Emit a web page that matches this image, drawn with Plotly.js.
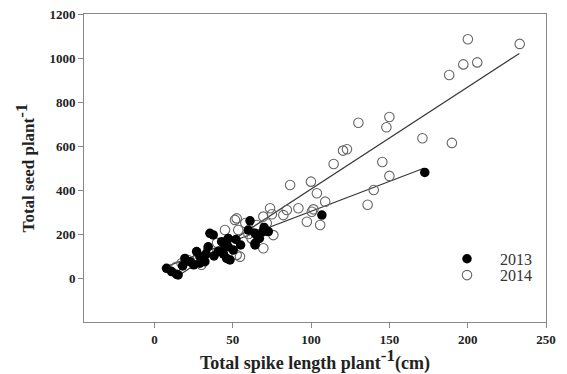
<!DOCTYPE html>
<html>
<head>
<meta charset="utf-8">
<script src="https://cdn.plot.ly/plotly-3.0.1.min.js"></script>
<style>html,body{margin:0;padding:0;background:#fff;}#chart{width:567px;height:374px;}</style>
</head>
<body>
<div id="chart"></div>
<script>
// 2013 (filled circles)
const x2013 = [7.7, 10.9, 14, 15.1, 19.4, 22.6, 26.9, 29, 29, 32.2, 34.3, 35.4, 37.5, 40.7, 42.9, 45, 46.1, 47.1, 48.2, 47.1, 50.3, 59.9, 61, 64.2, 64.2, 65.3, 69.5, 72.7, 64.2, 25, 38, 55, 18, 33, 44, 52, 67, 70, 106.9, 172.6];
const y2013 = [44, 29, 17, 14, 89, 74, 120, 97, 67, 74, 142, 203, 196, 120, 165, 142, 89, 180, 82, 142, 127, 218, 260, 203, 158, 195, 211, 211, 150, 60, 100, 150, 55, 110, 110, 175, 180, 230, 286, 480];
// 2014 (open circles)
const x2014 = [14, 17.3, 21.5, 27.9, 34.3, 45, 51.4, 53.5, 52.5, 52.5, 54.6, 65.3, 69.5, 71.7, 69.5, 73.8, 75.9, 82.3, 84.5, 86.6, 91.9, 97.3, 99.9, 100.5, 101.5, 103.7, 105.8, 109, 114.4, 120.4, 122.9, 130.2, 136.1, 140, 145.5, 148.1, 150, 150, 171.1, 188.2, 189.9, 197.2, 200.1, 206.1, 233.2, 40, 30, 60, 58, 75, 62];
const y2014 = [51, 67, 82, 97, 127, 218, 264, 218, 105, 271, 97, 241, 279, 249, 135, 317, 195, 286, 309, 423, 317, 256, 438, 301, 312, 385, 241, 347, 518, 579, 585, 706, 333, 400, 527, 685, 732, 464, 635, 923, 614, 971, 1085, 980, 1064, 160, 60, 200, 250, 290, 180];
// fitted regression lines (end points)
const fit2013X = [8, 172];
const fit2013Y = [53, 499];
const fit2014X = [14, 233];
const fit2014Y = [5, 1021];
// ticks
const xTicks = [0, 50, 100, 150, 200, 250];
const yTicks = [0, 200, 400, 600, 800, 1000, 1200];

const serif = 'Liberation Serif, Times New Roman, serif';
const traces = [
  {x: fit2014X, y: fit2014Y, mode: 'lines', line: {color: '#3a3a3a', width: 1.2}, showlegend: false, hoverinfo: 'skip'},
  {x: fit2013X, y: fit2013Y, mode: 'lines', line: {color: '#3a3a3a', width: 1.2}, showlegend: false, hoverinfo: 'skip'},
  {x: x2014, y: y2014, mode: 'markers', name: '2014', legend: 'legend2',
   marker: {symbol: 'circle-open', size: 9.5, color: '#666', line: {width: 1.1, color: '#666'}}},
  {x: x2013, y: y2013, mode: 'markers', name: '2013', legend: 'legend',
   marker: {symbol: 'circle', size: 9.5, color: '#000'}}
];
const axCommon = {
  showgrid: false, zeroline: false, showline: true, mirror: true,
  linecolor: '#888', linewidth: 1, ticks: 'outside', ticklen: 5, tickcolor: '#888', tickwidth: 1,
  tickfont: {family: serif, size: 13, color: '#222', weight: 'bold'}
};
const legCommon = {
  xanchor: 'left', yanchor: 'middle', itemwidth: 56, tracegroupgap: 0,
  font: {family: serif, size: 16, color: '#333'}, bgcolor: 'rgba(0,0,0,0)'
};
const layout = {
  width: 567, height: 374,
  margin: {l: 84, r: 21, t: 14, b: 52},
  paper_bgcolor: '#fff', plot_bgcolor: '#fff',
  font: {family: serif, color: '#222'},
  xaxis: Object.assign({}, axCommon, {
    range: [-45, 250], tickvals: xTicks, ticktext: xTicks.map(String),
    title: {text: '<b>Total spike length plant<sup><span style="font-size:17px">-1</span></sup>(cm)</b>', font: {family: serif, size: 18, color: '#222'}, standoff: 0}
  }),
  yaxis: Object.assign({}, axCommon, {
    range: [-200, 1200], tickvals: yTicks, ticktext: yTicks.map(String),
    title: {text: '<b>Total seed plant<sup><span style="font-size:17px">-1</span></sup></b>', font: {family: serif, size: 17, color: '#222'}, standoff: 10}
  }),
  legend: Object.assign({}, legCommon, {x: 0.7576, y: 0.205}),
  legend2: Object.assign({}, legCommon, {x: 0.7576, y: 0.152}),
  showlegend: true
};
Plotly.newPlot('chart', traces, layout, {staticPlot: true, displayModeBar: false});
</script>
</body>
</html>
